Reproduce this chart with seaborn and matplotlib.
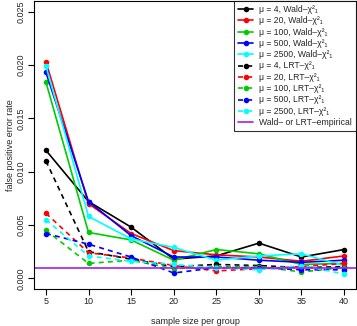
import matplotlib
matplotlib.use("Agg")
import matplotlib.pyplot as plt
import seaborn as sns
import pandas as pd

sns.set_theme(style="white")
plt.rcParams['font.family'] = ['Liberation Sans', 'DejaVu Sans']

sample_size = [5, 10, 15, 20, 25, 30, 35, 40]
mus = [4, 20, 100, 500, 2500]

wald_mu4 = [0.0120, 0.0072, 0.0048, 0.0018, 0.0021, 0.0033, 0.0020, 0.0027]
wald_mu20 = [0.0203, 0.0070, 0.0042, 0.0026, 0.0022, 0.0020, 0.0016, 0.0021]
wald_mu100 = [0.0184, 0.0043, 0.0036, 0.0017, 0.0027, 0.0023, 0.0013, 0.0014]
wald_mu500 = [0.0193, 0.0072, 0.0040, 0.0020, 0.0020, 0.0017, 0.0015, 0.0017]
wald_mu2500 = [0.0199, 0.0058, 0.0037, 0.0029, 0.0017, 0.0021, 0.0023, 0.0012]

lrt_mu4 = [0.0110, 0.0025, 0.0018, 0.0011, 0.0013, 0.0012, 0.0010, 0.0011]
lrt_mu20 = [0.0061, 0.0024, 0.0019, 0.0012, 0.0007, 0.0009, 0.0011, 0.0014]
lrt_mu100 = [0.0045, 0.0014, 0.0017, 0.0009, 0.0011, 0.0011, 0.0006, 0.0010]
lrt_mu500 = [0.0042, 0.0032, 0.0020, 0.0005, 0.0010, 0.0010, 0.0008, 0.0008]
lrt_mu2500 = [0.0055, 0.0021, 0.0016, 0.0013, 0.0010, 0.0008, 0.0012, 0.0004]

empirical_rate = 0.001

colors = ['#000000', '#FF0000', '#00CD00', '#0000FF', '#00FFFF']
wald = [wald_mu4, wald_mu20, wald_mu100, wald_mu500, wald_mu2500]
lrt = [lrt_mu4, lrt_mu20, lrt_mu100, lrt_mu500, lrt_mu2500]

fig = plt.figure(figsize=(3.57, 3.26), dpi=100)
ax = fig.add_axes([34/357, 1 - 289/326, (356-34)/357, (289-1)/326])

for mu, vals, c in zip(mus, wald, colors):
    sns.lineplot(x=sample_size, y=vals, ax=ax, color=c, marker='o', markersize=4,
                 markeredgewidth=0, linewidth=1.2,
                 label="\u03bc = %d, Wald\u2013\u03c7\u00b2\u2081" % mu)
for mu, vals, c in zip(mus, lrt, colors):
    sns.lineplot(x=sample_size, y=vals, ax=ax, color=c, marker='o', markersize=4,
                 markeredgewidth=0, linewidth=1.2, linestyle=(0, (3, 2.5)),
                 label="\u03bc = %d, LRT\u2013\u03c7\u00b2\u2081" % mu)
ax.axhline(empirical_rate, color='#A020F0', linewidth=1.2, label='Wald\u2013 or LRT\u2013empirical')

ax.set_xlim(3.6, 41.4)
ax.set_ylim(-0.001, 0.026)
ax.set_xticks(sample_size)
ax.set_yticks([0, 0.005, 0.010, 0.015, 0.020, 0.025])
ax.set_yticklabels(['0.000', '0.005', '0.010', '0.015', '0.020', '0.025'], rotation=90, va='center')
ax.tick_params(axis='both', labelsize=6.5, length=4, width=0.8, direction='out', color='black',
               left=True, bottom=True, pad=2)
for s in ax.spines.values():
    s.set_color('black')
    s.set_linewidth(0.8)
ax.set_xlabel('sample size per group', fontsize=6.5, labelpad=8)
ax.set_ylabel('false positive error rate', fontsize=6.5, labelpad=1)

leg = ax.legend(loc='upper right', fontsize=6.2, frameon=True, fancybox=False,
                borderaxespad=0, handlelength=1.8, labelspacing=0.27, borderpad=0.45,
                handletextpad=0.7, handleheight=0.5)
leg.get_frame().set_edgecolor('black')
leg.get_frame().set_linewidth(0.8)

fig.savefig('out.png', dpi=100)
